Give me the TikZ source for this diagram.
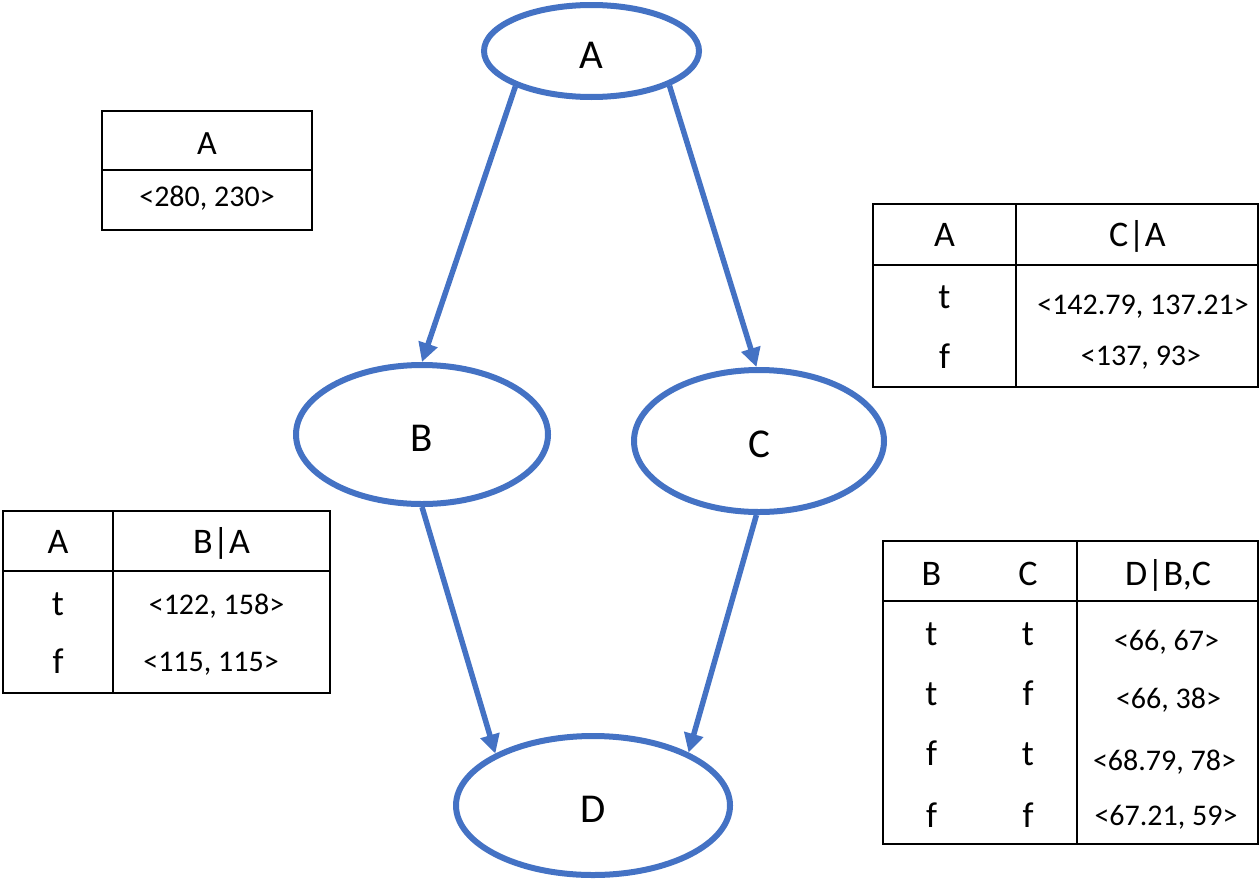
\documentclass[tikz,border=0pt]{standalone}
\usepackage{fontspec}
\setmainfont{Carlito}
\usetikzlibrary{shapes.geometric,arrows.meta}
\definecolor{nodeblue}{HTML}{4472C4}
\begin{document}
\begin{tikzpicture}[x=1pt,y=-1pt,
  bnode/.style={ellipse,draw=nodeblue,line width=6pt,inner sep=0pt,fill=white,
    font=\fontsize{41}{48}\selectfont,text height=34pt},
  edge/.style={draw=nodeblue,line width=5.5pt,-{Triangle[length=19pt,width=19pt]}},
  tline/.style={draw=black,line width=2.5pt},
  thead/.style={anchor=base,font=\fontsize{36}{42}\selectfont,inner sep=0pt},
  tval/.style={anchor=base,font=\fontsize{30}{36}\selectfont,inner sep=0pt}]
\useasboundingbox (0,0) rectangle (1260,881);

% Graph nodes
\node[bnode,minimum width=215pt,minimum height=92pt] (A) at (591.5,51) {A};
\node[bnode,minimum width=252pt,minimum height=139pt] (B) at (422,434.5) {B};
\node[bnode,minimum width=250pt,minimum height=142pt] (C) at (759,441) {C};
\node[bnode,minimum width=274pt,minimum height=139pt] (D) at (593,805.5) {D};

% Edges
\draw[edge] (A.205) -- (B.north);
\draw[edge] (A.336) -- (C.92);
\draw[edge] (B.south) -- (D.152);
\draw[edge] (C.268) -- (D.29);

% Table A
\draw[tline] (102,111) rectangle (312,230);
\draw[tline] (102,170) -- (312,170);
\node[thead,font=\fontsize{34}{40}\selectfont] (tAh) at (207,154) {A};
\node[tval] (tAv) at (207,206) {<280, 230>};

% Table C|A
\draw[tline] (873,204) rectangle (1258,387);
\draw[tline] (1016,204) -- (1016,387);
\draw[tline] (873,265) -- (1258,265);
\node[thead] (tCh1) at (944.5,246) {A};
\node[thead] (tCh2) at (1137.5,246) {C|A};
\node[thead] (tCr1) at (944.5,308) {t};
\node[thead] (tCr2) at (944.5,368) {f};
\node[tval] (tCv1) at (1143,314) {<142.79, 137.21>};
\node[tval] (tCv2) at (1141,365) {<137, 93>};

% Table B|A
\draw[tline] (3,511) rectangle (330,693);
\draw[tline] (113,511) -- (113,693);
\draw[tline] (3,571) -- (330,571);
\node[thead] (tBh1) at (58,553) {A};
\node[thead] (tBh2) at (221.5,553) {B|A};
\node[thead] (tBr1) at (58,615) {t};
\node[thead] (tBr2) at (58,673) {f};
\node[tval] (tBv1) at (216.5,614) {<122, 158>};
\node[tval] (tBv2) at (211,671) {<115, 115>};

% Table D|B,C
\draw[tline] (883,541) rectangle (1258,844);
\draw[tline] (1077,541) -- (1077,844);
\draw[tline] (883,601) -- (1258,601);
\node[thead] (tDh1) at (931.5,585) {B};
\node[thead] (tDh2) at (1028,585) {C};
\node[thead] (tDh3) at (1168,585) {D|B,C};
\node[thead] (tDb1) at (931.5,645) {t};
\node[thead] (tDc1) at (1028,645) {t};
\node[thead] (tDb2) at (931.5,705) {t};
\node[thead] (tDc2) at (1028,705) {f};
\node[thead] (tDb3) at (931.5,765) {f};
\node[thead] (tDc3) at (1028,765) {t};
\node[thead] (tDb4) at (931.5,827) {f};
\node[thead] (tDc4) at (1028,827) {f};
\node[tval] (tDv1) at (1166.5,650) {<66, 67>};
\node[tval] (tDv2) at (1168.5,708) {<66, 38>};
\node[tval] (tDv3) at (1164.5,770) {<68.79, 78>};
\node[tval] (tDv4) at (1166,825) {<67.21, 59>};
\end{tikzpicture}
\end{document}
